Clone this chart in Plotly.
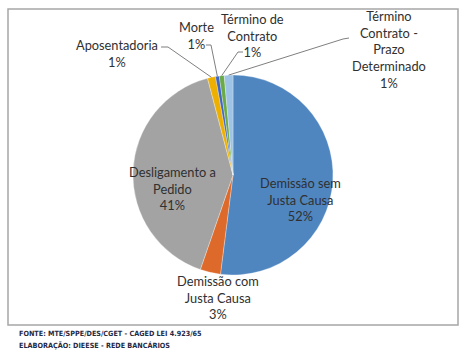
import math
import plotly.graph_objects as go

W, H = 468, 354

categories = ["Demissão sem Justa Causa", "Demissão com Justa Causa", "Desligamento a Pedido",
              "Aposentadoria", "Morte", "Término de Contrato",
              "Término Contrato - Prazo Determinado"]
values = [52.0, 3.3, 40.6, 1.3, 0.6, 0.8, 1.4]
colors = ["#4F86C0", "#DD6A2A", "#A3A3A3", "#EEB000", "#4066C4", "#6AAA48", "#9DC3E6"]
label_texts = ["Demissão sem<br>Justa Causa", "Demissão com<br>Justa Causa", "Desligamento a<br>Pedido",
               "Aposentadoria", "Morte", "Término de<br>Contrato",
               "Término<br>Contrato -<br>Prazo<br>Determinado"]

# layout (pixels)
cx, cy, r = 233, 175, 100
label_pos = [(300, 199), (218, 297), (172, 188), (117, 53), (196, 36), (252, 35), (389, 49)]
# leader line anchors for small slices: (start point, elbow)
leaders = {3: ((161, 47), (168, 47)), 4: ((206, 45), (211, 45)),
           5: ((243, 52), (238, 52)), 6: ((349, 38), (343, 39))}

def px(x):
    return x / W

def py(y):
    return 1 - y / H

fig = go.Figure(go.Pie(
    labels=categories, values=values, sort=False, direction="clockwise", rotation=0,
    marker=dict(colors=colors, line=dict(color="white", width=0.3)),
    textinfo="none", hoverinfo="label+percent", showlegend=False,
    domain=dict(x=[px(cx - r), px(cx + r)], y=[py(cy + r), py(cy - r)]),
))

total = sum(values)
annotations = []
shapes = []
cum = 0.0
for i, v in enumerate(values):
    pct = round(100 * v / total)
    mid = (cum + v / 2) / total * 2 * math.pi
    cum += v
    lx, ly = label_pos[i]
    annotations.append(dict(
        x=px(lx), y=py(ly), xref="paper", yref="paper", showarrow=False,
        text=f"{label_texts[i]}<br>{pct}%", align="center",
        font=dict(family="Lato", size=12.8, color="#303030"),
        xanchor="center", yanchor="middle"))
    if i in leaders:
        (sx, sy), (ex, ey) = leaders[i]
        tx = cx + r * math.sin(mid)
        ty = cy - r * math.cos(mid)
        path = f"M {px(sx)} {py(sy)} L {px(ex)} {py(ey)} L {px(tx)} {py(ty)}"
        shapes.append(dict(type="path", path=path, xref="paper", yref="paper",
                           line=dict(color="#7F7F7F", width=1)))

# chart border
shapes.append(dict(type="rect", xref="paper", yref="paper", x0=px(8), x1=px(458), y0=py(325), y1=py(9),
                   line=dict(color="#A6A6A6", width=1.5), layer="below"))

footer = ["FONTE: MTE/SPPE/DES/CGET - CAGED LEI 4.923/65", "ELABORAÇÃO: DIEESE - REDE BANCÁRIOS"]
for j, t in enumerate(footer):
    annotations.append(dict(x=px(17), y=py(333 + 12 * j), xref="paper", yref="paper", showarrow=False,
                            text=f"<b>{t}</b>", xanchor="left", yanchor="middle",
                            font=dict(family="DejaVu Sans Condensed, DejaVu Sans", size=7.2, color="#1F2A44")))

fig.update_layout(width=W, height=H, margin=dict(l=0, r=0, t=0, b=0),
                  paper_bgcolor="white", plot_bgcolor="white",
                  annotations=annotations, shapes=shapes)
fig.write_html("out.html")
